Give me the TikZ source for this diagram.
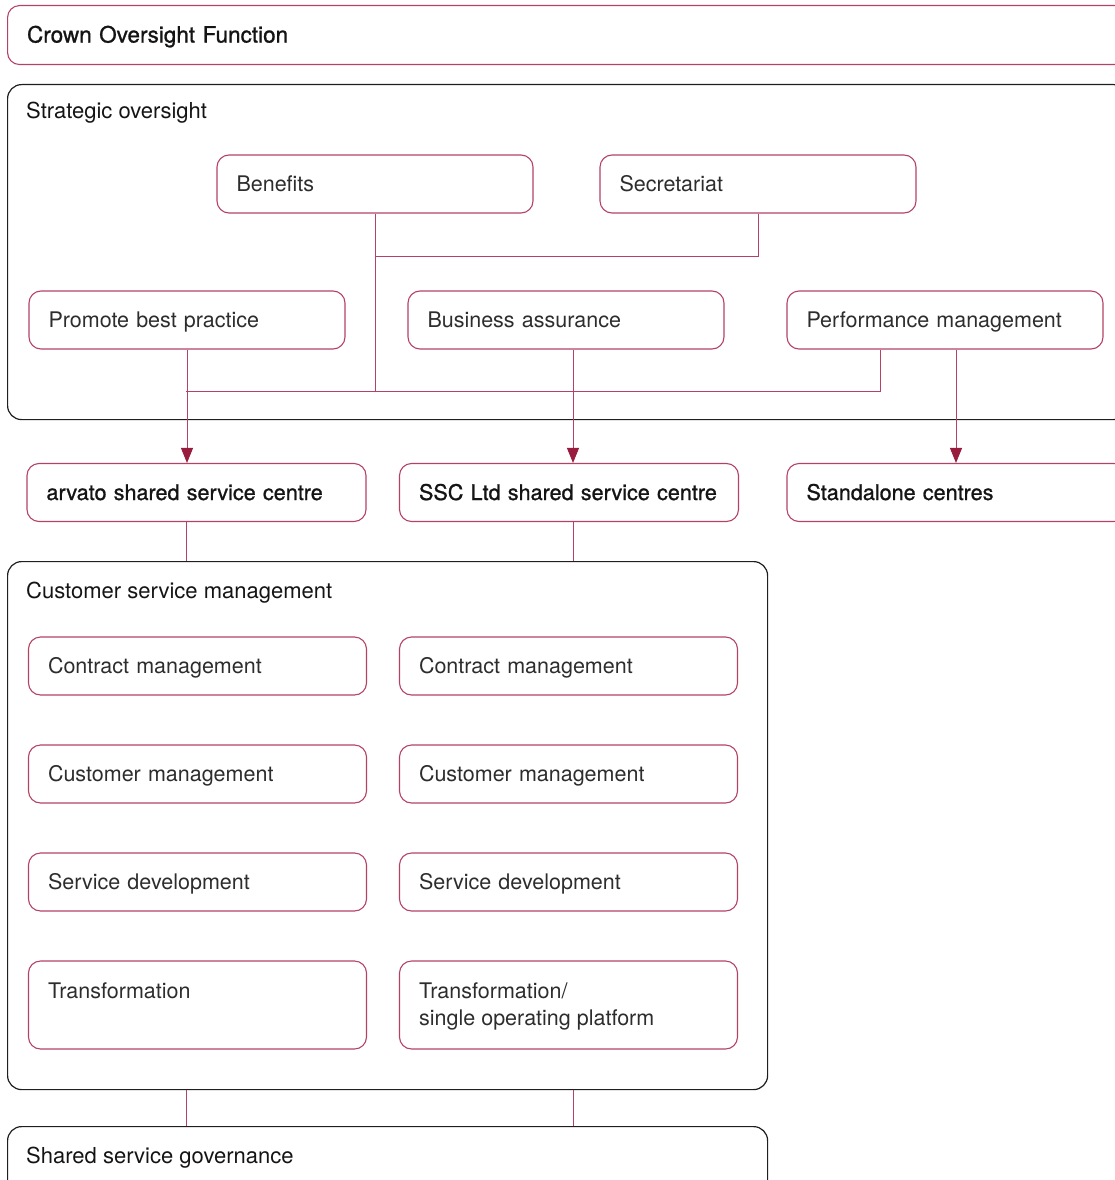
\documentclass[tikz,border=0pt]{standalone}
\usepackage{fontspec}
\setmainfont{TeX Gyre Heros}
\newfontfamily\medfont[FakeBold=1]{TeX Gyre Heros}
\usetikzlibrary{arrows.meta,calc}
\definecolor{crimb}{RGB}{180,66,100}
\definecolor{crimd}{RGB}{152,28,62}
\definecolor{frm}{RGB}{30,30,30}
\definecolor{txt}{RGB}{45,45,45}
\definecolor{ttlc}{RGB}{20,20,20}
\newcommand\fsz{\fontsize{21.5}{27}\selectfont}
\newcommand\fszt{\fontsize{22}{27}\selectfont}
\newcommand\fszm{\medfont\fontsize{21.6}{27}\selectfont}
\newcommand\fszc{\medfont\fontsize{22.5}{27}\selectfont}
\tikzset{
  ibox/.style={draw=crimb, line width=1.1pt, rounded corners=12pt, inner xsep=19.5pt, inner ysep=0pt,
    minimum height=58pt, text height=20pt, text depth=5pt, align=left, text=txt, font=\fsz},
  wbox/.style={ibox, text width=277pt},
  cbox/.style={ibox, text width=300pt},
  frame/.style={draw=frm, line width=1.2pt, rounded corners=14pt, inner sep=0pt},
  ttl/.style={anchor=base west, inner sep=0pt, text=ttlc, font=\fszt},
  itxt/.style={anchor=base west, inner sep=0pt, text=txt, font=\fsz},
  conn/.style={draw=crimb, line width=0.9pt},
  arr/.style={conn, -{Triangle[length=15pt,width=12pt,color=crimd]}}
}
\begin{document}
\begin{tikzpicture}[x=1pt,y=-1pt]
\useasboundingbox (0,0) rectangle (1115,1180);
\clip (0,0) rectangle (1115,1180);

% Crown
\node[ibox, anchor=north west, minimum height=59pt, text width=1080pt, font=\fszc, text=ttlc] (crown) at (7,5) {Crown Oversight Function};

% Strategic oversight
\node[frame, anchor=north west, minimum width=1120pt, minimum height=335pt] (strat) at (7,84) {};
\node[ttl] (strattl) at (26,118.5) {Strategic oversight};
\node[wbox] (ben) at (375,184) {Benefits};
\node[wbox] (sec) at (758,184) {Secretariat};
\node[wbox] (prom) at (187,320) {Promote best practice};
\node[wbox] (bus) at (566,320) {Business assurance};
\node[wbox] (perf) at (945,320) {Performance management};

% Centres
\node[cbox, font=\fszm, text=ttlc] (arv) at (196.5,492.5) {arvato shared service centre};
\node[cbox, font=\fszm, text=ttlc] (ssc) at (569,492.5) {SSC Ltd shared service centre};
\node[cbox, font=\fszm, text=ttlc] (stand) at (956.5,492.5) {Standalone centres};

% Customer service management
\node[frame, anchor=north west, minimum width=760pt, minimum height=528pt] (csm) at (7,561) {};
\node[ttl] (csmtl) at (26,598.5) {Customer service management};
\node[cbox, text width=299pt] (l1) at (197.5,666) {Contract management};
\node[cbox, text width=299pt] (r1) at (568.5,666) {Contract management};
\node[cbox, text width=299pt] (l2) at (197.5,774) {Customer management};
\node[cbox, text width=299pt] (r2) at (568.5,774) {Customer management};
\node[cbox, text width=299pt] (l3) at (197.5,882) {Service development};
\node[cbox, text width=299pt] (r3) at (568.5,882) {Service development};
\node[cbox, text width=299pt, minimum height=88pt] (l4) at (197.5,1005) {};
\node[cbox, text width=299pt, minimum height=88pt] (r4) at (568.5,1005) {};
\node[itxt] (l4t) at (48,998.5) {Transformation};
\node[itxt] (r4ta) at (419,998.5) {Transformation/};
\node[itxt] (r4tb) at (419,1025.5) {single operating platform};

% Shared service governance
\node[frame, anchor=north west, minimum width=760pt, minimum height=90pt] (ssg) at (7,1126) {};
\node[ttl] (ssgtl) at (26,1163.5) {Shared service governance};

% connectors
\coordinate (j1) at (375,391);
\coordinate (j2) at (375,256);
\coordinate (hl) at (186,391);
\coordinate (cL) at (186,0);
\coordinate (cR) at (573,0);
\draw[conn] (ben.south) -- (j1);
\draw[conn] (sec.south) |- (j2);
\draw[conn] ([xshift=-65pt]perf.south) |- (hl);
\draw[arr] (prom.south) -- (prom.south |- arv.north);
\draw[arr] ([xshift=7pt]bus.south) -- ([xshift=7pt]bus.south |- ssc.north);
\draw[arr] ([xshift=11pt]perf.south) -- ([xshift=11pt]perf.south |- stand.north);
\draw[conn] (arv.south -| cL) -- (csm.north -| cL);
\draw[conn] (ssc.south -| cR) -- (csm.north -| cR);
\draw[conn] (csm.south -| cL) -- (ssg.north -| cL);
\draw[conn] (csm.south -| cR) -- (ssg.north -| cR);
\end{tikzpicture}
\end{document}
